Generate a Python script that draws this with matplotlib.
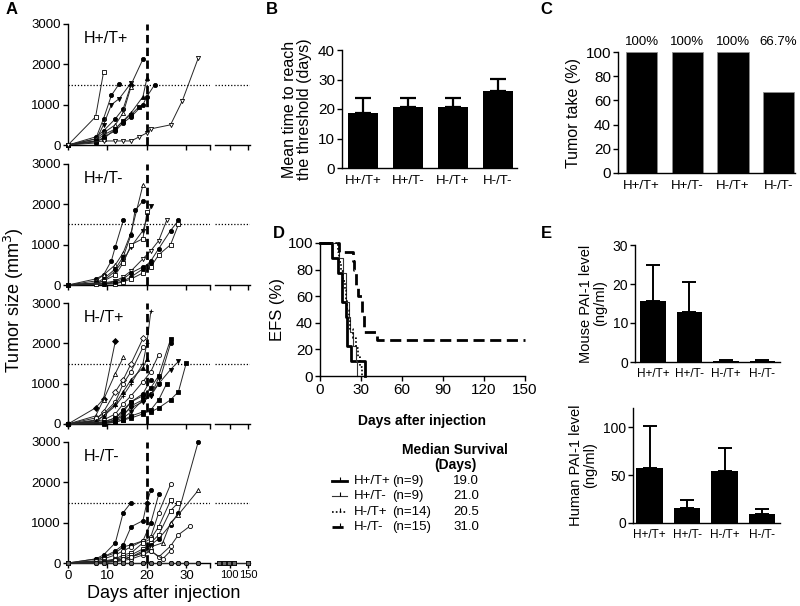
import numpy as np
import matplotlib
matplotlib.use('Agg')
import matplotlib.pyplot as plt
from matplotlib.lines import Line2D

plt.rcParams['font.family'] = ['Liberation Sans', 'DejaVu Sans']
plt.rcParams['axes.linewidth'] = 1.0
plt.rcParams['xtick.major.width'] = 1.0
plt.rcParams['ytick.major.width'] = 1.0
plt.rcParams['xtick.major.size'] = 3.5
plt.rcParams['ytick.major.size'] = 3.5

W, H = 800, 606

# ---------------- data ----------------
groups = ['H+/T+', 'H+/T-', 'H-/T+', 'H-/T-']

# panel A: individual tumor growth curves (days, volume mm3, marker, filled)
growth_hpTp = [
    ([0, 7, 9], [0, 700, 1800], 's', False),
    ([0, 7, 9, 11, 13], [0, 150, 650, 1230, 1520], 'o', True),
    ([0, 7, 9, 11, 13, 16], [0, 100, 500, 1000, 1150, 1540], 'v', True),
    ([0, 7, 9, 12, 14, 16, 19], [0, 200, 350, 650, 900, 1500, 2130], 'o', True),
    ([0, 7, 9, 12, 14, 16], [0, 150, 300, 500, 800, 1450], '^', False),
    ([0, 7, 9, 12, 14, 16, 19, 20], [0, 100, 250, 400, 600, 800, 1200, 1650], '^', True),
    ([0, 7, 9, 12, 14, 16, 19, 20, 22], [0, 50, 200, 350, 550, 700, 1000, 1200, 1500], 'o', True),
    ([0, 7, 9, 12, 14, 16, 18], [0, 100, 150, 400, 600, 750, 950], 's', True),
    ([0, 9, 12, 14, 16, 18, 20, 21, 26, 29, 33], [0, 100, 100, 100, 100, 200, 300, 400, 500, 1100, 2150], 'v', False),
]
growth_hpTm = [
    ([0, 7, 9, 11, 12, 14], [0, 150, 250, 600, 950, 1600], 'o', True),
    ([0, 7, 9, 12, 14, 16, 19], [0, 100, 250, 500, 800, 1300, 2480], '^', False),
    ([0, 7, 9, 12, 14, 16, 17, 19], [0, 50, 150, 400, 700, 1250, 1850, 2080], 'o', True),
    ([0, 7, 9, 12, 14, 16, 19, 21], [0, 50, 100, 350, 600, 950, 1350, 1950], 'v', True),
    ([0, 7, 9, 12, 14, 16, 19, 20], [0, 30, 100, 250, 550, 1000, 1150, 1800], 's', False),
    ([0, 9, 12, 14, 16, 19, 21, 23, 25], [0, 50, 100, 200, 350, 650, 850, 1100, 1600], 'v', False),
    ([0, 9, 12, 14, 16, 19, 21, 23, 26, 28], [0, 30, 50, 100, 200, 400, 600, 900, 1350, 1600], 'o', True),
    ([0, 9, 12, 14, 16, 19, 21, 23, 26, 28], [0, 20, 30, 80, 150, 300, 450, 750, 1000, 1500], 's', False),
    ([0, 9, 12, 14, 16, 19, 21], [0, 30, 80, 150, 300, 450, 550], 'o', True),
]
growth_hmTp = [
    ([0, 7, 9, 12], [0, 400, 620, 2050], 'D', True),
    ([0, 7, 9, 12, 14], [0, 200, 600, 1250, 1650], '^', False),
    ([0, 7, 9, 12, 14, 16, 19], [0, 100, 300, 800, 1100, 1500, 2120], 'D', False),
    ([0, 7, 9, 12, 14, 16, 19], [0, 150, 250, 550, 1000, 1300, 1900], 'o', False),
    ([0, 7, 9, 12, 14, 16, 19, 20, 21], [0, 50, 200, 450, 700, 1000, 1500, 2000, 2800], '+', False),
    ([0, 9, 12, 14, 16, 19, 21, 23], [0, 100, 250, 500, 700, 1050, 1300, 1720], 'o', False),
    ([0, 9, 12, 14, 16, 19, 21, 23, 26], [0, 50, 150, 300, 550, 700, 900, 1200, 2100], 's', True),
    ([0, 9, 12, 14, 16, 19, 21, 23, 26], [0, 30, 100, 200, 450, 600, 750, 1000, 2000], 'o', True),
    ([0, 9, 12, 14, 16, 19, 21, 23, 26, 28], [0, 20, 80, 150, 300, 600, 700, 1000, 1350, 1550], 'v', True),
    ([0, 9, 12, 14, 16, 19, 21, 23, 26, 28, 30], [0, 20, 50, 100, 200, 300, 300, 400, 600, 800, 1520], 's', True),
    ([0, 7, 9, 12, 14, 16, 19, 20], [0, 80, 200, 500, 800, 1100, 1400, 1600], '^', True),
    ([0, 9, 12, 14, 16, 19, 21, 23], [0, 30, 100, 250, 400, 550, 700, 1150], 'v', True),
    ([0, 9, 12, 14, 16, 19, 21], [0, 50, 150, 350, 550, 750, 1100], 'o', True),
    ([0, 9, 12, 14, 16, 19, 21, 23, 25], [0, 0, 50, 100, 150, 250, 350, 600, 1000], 's', True),
]
growth_hmTm = [
    ([0, 7, 9, 12, 14, 16], [0, 100, 200, 500, 1250, 1500], 'o', True),
    ([0, 7, 9, 12, 14, 16, 19, 20, 21], [0, 50, 150, 300, 450, 900, 1050, 1500, 1800], 'o', True),
    ([0, 7, 9, 12, 14, 16, 19, 21, 23], [0, 100, 150, 250, 400, 450, 550, 1000, 1700], 'o', True),
    ([0, 7, 9, 12, 14, 16, 19, 21, 23, 26], [0, 50, 100, 200, 300, 400, 550, 650, 1250, 1950], 'o', False),
    ([0, 9, 12, 14, 16, 19, 21, 23, 26], [0, 50, 100, 200, 250, 500, 600, 900, 1550], 's', False),
    ([0, 9, 12, 14, 16, 19, 21, 23, 26, 28], [0, 30, 80, 150, 200, 350, 500, 700, 1300, 1500], 's', False),
    ([0, 9, 12, 14, 16, 19, 21, 23, 26, 28, 33], [0, 20, 50, 100, 150, 300, 450, 600, 950, 1250, 3000], 'o', True),
    ([0, 9, 12, 14, 16, 19, 21, 24, 26, 28, 33], [0, 20, 50, 80, 150, 250, 400, 500, 1000, 1200, 1800], '^', False),
    ([0, 9, 12, 14, 16, 19, 21, 23, 26, 28, 31], [0, 10, 30, 60, 100, 200, 300, 150, 420, 700, 920], 'o', False),
    ([0, 9, 12, 14, 16, 19, 21, 24, 26], [0, 30, 80, 100, 150, 250, 300, 100, 300], 'o', False),
]
# mice without tumor take in H-/T- (measured 0 throughout)
zero_days_left = [0, 7, 9, 12, 14, 16, 19, 21, 23, 26, 28, 30, 33]
zero_days_right = [70, 84, 98, 112, 150]
n_zero_hmTm = 5

growth_all = [growth_hpTp, growth_hpTm, growth_hmTp, growth_hmTm]
threshold = 1500
cut_day = 20

# panel B
time_mean = [18.8, 20.7, 20.7, 26.2]
time_sem = [5.0, 2.9, 2.9, 4.0]

# panel C
take_pct = [100, 100, 100, 66.7]

# panel D: Kaplan-Meier
km_t = [
    [0, 9, 13, 16, 19, 20, 23, 33],
    [0, 14, 17, 19, 21, 22, 24, 26, 27],
    [0, 13, 14, 15, 17, 18, 19, 20, 21, 22, 24, 26, 28, 29, 31],
    [0, 14, 24, 25, 26, 28, 31, 32, 42, 150],
]
km_s = [
    [100, 88.9, 77.8, 55.6, 44.4, 22.2, 11.1, 0],
    [100, 88.9, 77.8, 55.6, 44.4, 33.3, 22.2, 11.1, 0],
    [100, 92.9, 85.7, 78.6, 71.4, 64.3, 57.1, 50.0, 42.9, 35.7, 28.6, 21.4, 14.3, 7.1, 0],
    [100, 93.3, 86.7, 80.0, 66.7, 60.0, 46.7, 33.3, 26.7, 26.7],
]
km_n = [9, 9, 14, 15]
km_median = [19.0, 21.0, 20.5, 31.0]

# panel E
mouse_pai = [15.6, 12.9, 0.3, 0.3]
mouse_err = [9.2, 7.7, 0.1, 0.1]
human_pai = [57.5, 16.0, 54.5, 9.0]
human_err = [43.5, 7.5, 23.5, 6.0]


def px_axes(fig, x0, y0, x1, y1):
    return fig.add_axes([x0 / W, 1 - y1 / H, (x1 - x0) / W, (y1 - y0) / H])


def clean(ax, bottom_only=False):
    ax.spines['top'].set_visible(False)
    ax.spines['right'].set_visible(False)
    if bottom_only:
        ax.spines['left'].set_visible(False)
        ax.set_yticks([])
    ax.tick_params(labelsize=9.5, pad=1.5)


fig = plt.figure(figsize=(W / 100, H / 100), dpi=100)

# ---------------- panel A ----------------
row_tops = [24, 164, 303, 442]
for k, g in enumerate(groups):
    top = row_tops[k]
    bot = top + 121
    axl = px_axes(fig, 68, top, 210, bot)
    axr = px_axes(fig, 215, top, 250, bot)
    for ax in (axl, axr):
        clean(ax, bottom_only=(ax is axr))
        ax.set_ylim(0, 3000)
        ax.axhline(threshold, color='black', lw=0.9, ls=(0, (1, 1.5)))
    axl.set_xlim(0, 36)
    axr.set_xlim(60, 155)
    axl.set_yticks([0, 1000, 2000, 3000])
    axl.set_xticks([0, 10, 20, 30, 36])
    axr.set_xticks([100, 150])
    if k == 3:
        axl.set_xticklabels(['0', '10', '20', '30', ''])
        axr.set_xticklabels(['100', '150'])
        axr.tick_params(axis='x', pad=1.5, labelsize=8)
    else:
        axl.set_xticklabels([])
        axr.set_xticklabels([])
    for days, vol, mk, filled in growth_all[k]:
        axl.plot(days, vol, color='0.15', lw=0.7, marker=mk, ms=3,
                 mfc='black' if filled else 'white', mec='black', mew=0.6,
                 clip_on=False, zorder=3)
    if k == 3:
        for j in range(n_zero_hmTm):
            axl.plot(zero_days_left, np.zeros(len(zero_days_left)), color='0.15', lw=0.7,
                     marker='o', ms=3, mfc='0.4', mec='black', mew=0.5, clip_on=False, zorder=3)
            axr.plot(zero_days_right, np.zeros(len(zero_days_right)), color='0.15', lw=0.7,
                     marker='s', ms=3, mfc='0.4', mec='black', mew=0.5, clip_on=False, zorder=3)
    axl.axvline(cut_day, color='black', lw=2, ls=(0, (3, 1.6)), zorder=4)
    axl.text(0.11, 0.84, g, transform=axl.transAxes, fontsize=11.5)

fig.text(164 / W, 1 - 593 / H, 'Days after injection', ha='center', va='center', fontsize=13)
fig.text(14 / W, 1 - 300 / H, 'Tumor size (mm$^3$)', rotation=90, ha='center', va='center', fontsize=13)

# ---------------- panel B ----------------
xb = np.arange(len(groups))
axb = px_axes(fig, 342, 50, 517, 168)
clean(axb)
axb.bar(xb, time_mean, width=0.67, color='black', zorder=2)
axb.errorbar(xb, time_mean, yerr=[np.zeros(4), time_sem], fmt='none', ecolor='black',
             elinewidth=1.6, capsize=6, capthick=1.6, zorder=3)
axb.set_xlim(-0.47, 3.42)
axb.set_ylim(0, 40)
axb.set_yticks([0, 10, 20, 30, 40])
axb.set_xticks(xb)
axb.set_xticklabels(groups)
axb.tick_params(axis='x', length=0, pad=5)
axb.tick_params(axis='y', labelsize=11)
axb.set_ylabel('Mean time to reach\nthe threshold (days)', fontsize=11.5, labelpad=4, linespacing=1.0)

# ---------------- panel C ----------------
axc = px_axes(fig, 618, 52, 795, 173)
clean(axc)
axc.bar(xb, take_pct, width=0.69, color='black', edgecolor='0.55', lw=0.6, zorder=2)
for i, v in enumerate(take_pct):
    axc.text(i, 108, f'{v:g}%', ha='center', va='center', fontsize=9.5)
axc.set_xlim(-0.52, 3.36)
axc.set_ylim(0, 100)
axc.set_yticks([0, 20, 40, 60, 80, 100])
axc.set_xticks(xb)
axc.set_xticklabels(groups)
axc.tick_params(axis='x', length=0, pad=5)
axc.tick_params(axis='y', labelsize=11)
axc.set_ylabel('Tumor take (%)', fontsize=11.5, labelpad=3)

# ---------------- panel D ----------------
axd = px_axes(fig, 320, 243, 525, 376)
clean(axd)
km_styles = [
    dict(color='black', lw=2.0, ls='-'),
    dict(color='0.2', lw=0.8, ls='-'),
    dict(color='black', lw=1.2, ls=(0, (1, 1.3))),
    dict(color='black', lw=2.0, ls=(0, (4, 2))),
]
for t, s, st in zip(km_t, km_s, km_styles):
    axd.step(t, s, where='post', clip_on=False, **st)
axd.set_xlim(0, 150)
axd.set_ylim(0, 100)
axd.set_xticks([0, 30, 60, 90, 120, 150])
axd.set_yticks([0, 20, 40, 60, 80, 100])
axd.tick_params(labelsize=11)
axd.set_ylabel('EFS (%)', fontsize=12, labelpad=2)
axd.set_xlabel('Days after injection', fontsize=10, fontweight='bold', labelpad=12)

# legend of panel D
fig.text(455 / W, 1 - 450 / H, 'Median Survival', ha='center', va='center', fontsize=10, fontweight='bold')
fig.text(455 / W, 1 - 465 / H, '(Days)', ha='center', va='center', fontsize=10, fontweight='bold')
row_y = [481, 496, 512, 527]
for k, g in enumerate(groups):
    yy = 1 - row_y[k] / H
    fig.add_artist(Line2D([332 / W, 347 / W], [yy, yy], **km_styles[k]))
    fig.add_artist(Line2D([340 / W], [yy + 2 / H], marker='|', ms=3, color='black', mew=0.8))
    fig.text(354 / W, yy, g, ha='left', va='center', fontsize=9.5)
    fig.text(392 / W, yy, f'(n={km_n[k]})', ha='left', va='center', fontsize=9.5)
    fig.text(453 / W, yy, f'{km_median[k]:.1f}', ha='left', va='center', fontsize=9.5)

# ---------------- panel E ----------------
axm = px_axes(fig, 635, 245, 780, 362)
clean(axm)
axm.bar(xb, mouse_pai, width=0.7, color='black', zorder=2)
axm.errorbar(xb, mouse_pai, yerr=[np.zeros(4), mouse_err], fmt='none', ecolor='black',
             elinewidth=1.4, capsize=5, capthick=1.4, zorder=3)
axm.set_xlim(-0.49, 3.48)
axm.set_ylim(0, 30)
axm.set_yticks([0, 10, 20, 30])
axm.set_xticks(xb)
axm.set_xticklabels(groups, fontsize=8.5)
axm.tick_params(axis='x', length=0, pad=4)
axm.tick_params(axis='y', labelsize=10)
axm.set_ylabel('Mouse PAI-1 level\n(ng/ml)', fontsize=10.5, labelpad=4, linespacing=1.0)

axh = px_axes(fig, 633, 408, 780, 523)
clean(axh)
axh.bar(xb, human_pai, width=0.7, color='black', zorder=2)
axh.errorbar(xb, human_pai, yerr=[np.zeros(4), human_err], fmt='none', ecolor='black',
             elinewidth=1.4, capsize=5, capthick=1.4, zorder=3)
axh.set_xlim(-0.44, 3.48)
axh.set_ylim(0, 120)
axh.set_yticks([0, 50, 100])
axh.set_xticks(xb)
axh.set_xticklabels(groups, fontsize=8.5)
axh.tick_params(axis='x', length=0, pad=4)
axh.tick_params(axis='y', labelsize=10)
axh.set_ylabel('Human PAI-1 level\n(ng/ml)', fontsize=10.5, labelpad=4, linespacing=1.0)

# panel letters
for lab, x, y in [('A', 12, 9), ('B', 272, 9), ('C', 546, 9), ('D', 279, 233), ('E', 546, 233)]:
    fig.text(x / W, 1 - y / H, lab, ha='center', va='center', fontsize=12, fontweight='bold')

fig.savefig('out.png', dpi=100)
